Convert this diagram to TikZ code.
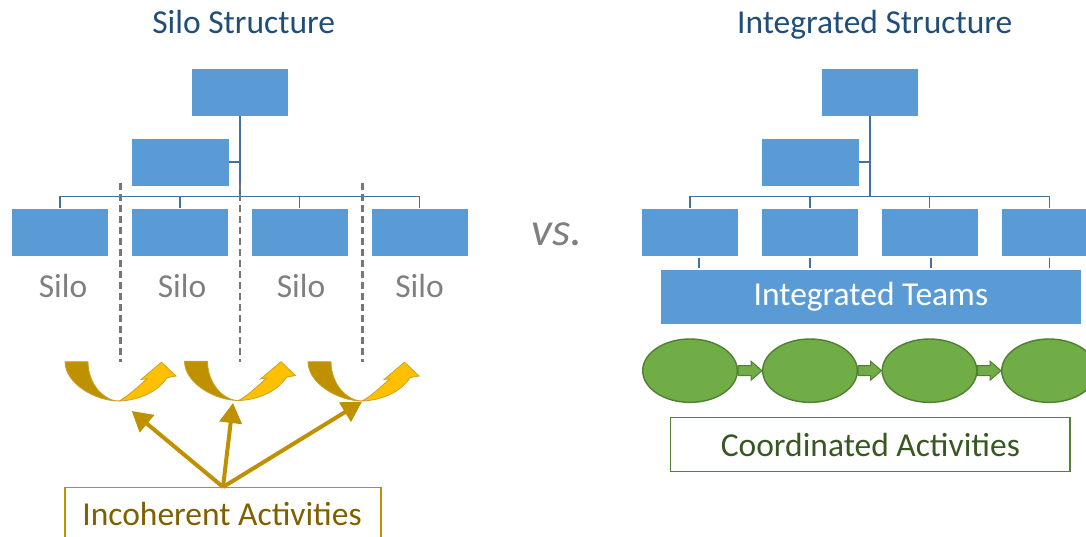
\documentclass[tikz,border=0pt]{standalone}
\usepackage{fontspec}
\setmainfont{Carlito}
\usetikzlibrary{arrows.meta,calc,shapes.geometric}

\definecolor{boxblue}{HTML}{5B9BD5}
\definecolor{connblue}{HTML}{41719C}
\definecolor{titleblue}{HTML}{1F4E79}
\definecolor{silogray}{HTML}{7F7F7F}
\definecolor{dashgray}{HTML}{767676}
\definecolor{golddark}{HTML}{BF9000}
\definecolor{goldlight}{HTML}{FFC000}
\definecolor{goldedge}{HTML}{C9A227}
\definecolor{goldtext}{HTML}{7F6000}
\definecolor{leaf}{HTML}{70AD47}
\definecolor{leafedge}{HTML}{507E32}
\definecolor{leaftext}{HTML}{385723}
\definecolor{leafbox}{HTML}{548235}

\newcommand\labelfont{\fontsize{33.5}{40}\selectfont}

% U-shaped curved arrow; #1 is the bottom point of the U
\newcommand\curvedup[1]{%
  \begin{scope}[shift={(#1)}]
    \filldraw[fill=golddark, draw=goldedge, line width=0.8pt]
      (-54,-39.3) -- (-31,-39.3) .. controls (-31,-17) and (-15,0) .. (0,0)
      .. controls (-24,0) and (-54,-17.6) .. (-54,-39.3) -- cycle;
    \filldraw[fill=goldlight, draw=goldedge, line width=0.8pt, line join=miter]
      (0,0) .. controls (18,-0.5) and (38,-8) .. (48,-23.3) -- (57,-25)
      -- (42.5,-38.8) -- (22,-21.5) -- (28,-22.3)
      .. controls (20,-15) and (8,-4) .. (0,0) -- cycle;
  \end{scope}}

\begin{document}
\begin{tikzpicture}[x=1pt,y=-1pt,
  orgbox/.style={fill=boxblue, draw=white, line width=0.8pt, minimum width=97pt,
    minimum height=48pt, inner sep=0pt},
  conn/.style={draw=connblue, line width=1.6pt},
  title/.style={text=titleblue, font=\labelfont, anchor=base, inner sep=0pt},
  silolabel/.style={text=silogray, font=\labelfont, anchor=base, inner sep=0pt},
  divider/.style={draw=dashgray, line width=2.8pt, dash pattern=on 7pt off 4pt},
  incarrow/.style={draw=golddark, line width=4pt, -{Triangle[length=20pt,width=22pt]}},
  oval/.style={ellipse, fill=leaf, draw=leafedge, line width=1.4pt,
    minimum width=94.6pt, minimum height=63.4pt, inner sep=0pt},
  flow/.style={fill=leaf, draw=leafedge, line width=1pt, line join=miter}]

\useasboundingbox (0,0) rectangle (1086,537);
\clip (0,0) rectangle (1086,537);

% ---------- titles ----------
\node[title] (silotitle) at (243.7,33.3) {Silo Structure};
\node[title] (inttitle) at (874.7,33.3) {Integrated Structure};
\node[text=silogray, font=\fontsize{47}{50}\selectfont\itshape, anchor=base, inner sep=0pt]
  (vs) at (557,246) {vs.};

% ---------- silo structure ----------
\node[orgbox] (t1) at (240,92) {};
\node[orgbox, minimum width=98pt] (m1) at (180,162) {};
\node[orgbox] (b1) at (60,232) {};
\node[orgbox] (b2) at (180,232) {};
\node[orgbox] (b3) at (299.5,232) {};
\node[orgbox] (b4) at (419.5,232) {};
\coordinate (bar1) at (0,196.6);

\draw[conn] (t1.south) -- (t1.south |- bar1);
\draw[conn] (m1.east) -- (m1.east -| t1.south);
\draw[conn] (b1.north) -- (b1.north |- bar1) -- (b4.north |- bar1) -- (b4.north);
\draw[conn] (b2.north) -- (b2.north |- bar1);
\draw[conn] (b3.north) -- (b3.north |- bar1);

\node[silolabel] (s1) at (63,297) {Silo};
\node[silolabel] (s2) at (182,297) {Silo};
\node[silolabel] (s3) at (301,297) {Silo};
\node[silolabel] (s4) at (419.5,297) {Silo};

% dividers between silos
\coordinate (d1a) at (120.7,183); \coordinate (d1b) at (120.7,362);
\coordinate (d2a) at (240,183);   \coordinate (d2b) at (240,362);
\coordinate (d3a) at (362.3,183); \coordinate (d3b) at (362.3,362);
\draw[divider] (d1a) -- (d1b);
\draw[divider] (d2a) -- (d2b);
\draw[divider] (d3a) -- (d3b);

% curved activity arrows
\curvedup{119,401}
\curvedup{238.5,400.5}
\curvedup{362,401}

\coordinate (u1) at (131.7,411);
\coordinate (u2) at (233,403);
\coordinate (u3) at (362,401.7);

\node[draw=golddark, line width=1.4pt, minimum width=316pt, minimum height=60pt,
  inner sep=0pt] (inc) at (223,517.7) {};
\node[text=goldtext, font=\labelfont, anchor=base, inner sep=0pt] (inctext)
  at (222,525) {Incoherent Activities};

\draw[incarrow] (inc.north) -- (u1);
\draw[incarrow] (inc.north) -- (u2);
\draw[incarrow] (inc.north) -- (u3);

% ---------- integrated structure ----------
\node[orgbox] (t2) at (870,92) {};
\node[orgbox, minimum width=98pt] (m2) at (810,162) {};
\node[orgbox] (b5) at (690,232) {};
\node[orgbox] (b6) at (810,232) {};
\node[orgbox] (b7) at (929.5,232) {};
\node[orgbox] (b8) at (1049.5,232) {};
\coordinate (bar2) at (0,196.6);

\draw[conn] (t2.south) -- (t2.south |- bar2);
\draw[conn] (m2.east) -- (m2.east -| t2.south);
\draw[conn] (b5.north) -- (b5.north |- bar2) -- (b8.north |- bar2) -- (b8.north);
\draw[conn] (b6.north) -- (b6.north |- bar2);
\draw[conn] (b7.north) -- (b7.north |- bar2);

\node[fill=boxblue, minimum width=420.3pt, minimum height=54pt, inner sep=0pt,
  text=white, font=\labelfont] (team) at (870.85,297) {Integrated Teams};

\draw[conn, shorten <=1.5pt, shorten >=1.5pt] ([xshift=9pt]b5.south) -- ([xshift=9pt]b5.south |- team.north);
\draw[conn, shorten <=1.5pt, shorten >=1.5pt] (b6.south) -- (b6.south |- team.north);
\draw[conn, shorten <=1.5pt, shorten >=1.5pt] ([xshift=1.5pt]b7.south) -- ([xshift=1.5pt]b7.south |- team.north);
\draw[conn, shorten <=1.5pt, shorten >=1.5pt] (b8.south) -- (b8.south |- team.north);

\node[oval] (e1) at (690,370.7) {};
\node[oval] (e2) at (810,370.7) {};
\node[oval] (e3) at (929.5,370.7) {};
\node[oval] (e4) at (1049,370.7) {};

\foreach \a/\b in {e1/e2,e2/e3,e3/e4}{
  \filldraw[flow] let \p1=(\a.east), \p2=(\b.west) in
    (\x1,\y1+5pt) -- (\x2-11pt,\y1+5pt) -- (\x2-11pt,\y1+9.5pt) -- (\x2,\y1)
    -- (\x2-11pt,\y1-9.5pt) -- (\x2-11pt,\y1-5pt) -- (\x1,\y1-5pt) -- cycle;
}

\node[draw=leafbox, line width=1.4pt, minimum width=399.3pt, minimum height=54.4pt,
  inner sep=0pt, text=leaftext, font=\labelfont] (coord) at (870.35,444.5)
  {Coordinated Activities};

\end{tikzpicture}
\end{document}
